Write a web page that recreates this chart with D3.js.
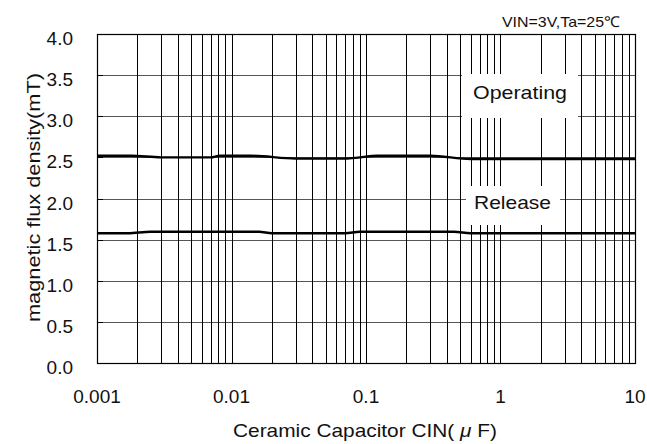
<!DOCTYPE html>
<html>
<head>
<meta charset="utf-8">
<script src="https://cdn.jsdelivr.net/npm/d3@7"></script>
<style>
  body { margin: 0; background: #fff; }
  svg { display: block; font-family: "Liberation Sans", Arial, sans-serif; }
</style>
</head>
<body>
<svg id="chart" width="647" height="444"></svg>
<script>
// capacitance values (uF) and flux density (mT)
const capOperating = [0.001, 0.0018, 0.003, 0.007, 0.0082, 0.014, 0.03, 0.07, 0.09, 0.12, 0.3, 0.6, 10];
const operating    = [2.52, 2.52, 2.50, 2.50, 2.52, 2.52, 2.485, 2.485, 2.50, 2.52, 2.52, 2.48, 2.48];
const capRelease   = [0.001, 0.0017, 0.0025, 0.016, 0.02, 0.07, 0.09, 0.45, 0.6, 10];
const release      = [1.577, 1.577, 1.595, 1.595, 1.577, 1.577, 1.595, 1.595, 1.577, 1.577];
const xTicks = [0.001, 0.01, 0.1, 1, 10];
const xTickLabels = ["0.001", "0.01", "0.1", "1", "10"];
const yTicks = [0, 0.5, 1, 1.5, 2, 2.5, 3, 3.5, 4];

const svg = d3.select("#chart");
const margin = { left: 97, top: 34, right: 12, bottom: 81 };
const W = 647, H = 444;

const x = d3.scaleLog().domain([0.001, 10]).range([margin.left, W - margin.right]);
const y = d3.scaleLinear().domain([0, 4]).range([H - margin.bottom, margin.top]);

// minor + major vertical grid
const vlines = [];
for (let e = -3; e < 1; e++) {
  for (let m = 1; m < 10; m++) vlines.push(m * Math.pow(10, e));
}
vlines.push(10);

svg.append("g")
  .selectAll("line")
  .data(yTicks)
  .join("line")
  .attr("x1", x(0.001)).attr("x2", x(10))
  .attr("y1", d => Math.round(y(d)) + 0.5).attr("y2", d => Math.round(y(d)) + 0.5)
  .attr("stroke", "#555").attr("stroke-width", 1);

svg.append("g")
  .selectAll("line")
  .data(vlines)
  .join("line")
  .attr("x1", d => Math.round(x(d)) + 0.5).attr("x2", d => Math.round(x(d)) + 0.5)
  .attr("y1", y(4)).attr("y2", y(0))
  .attr("stroke", "#000").attr("stroke-width", 1);

// small ticks on the left edge
svg.append("g")
  .selectAll("line")
  .data(yTicks)
  .join("line")
  .attr("x1", x(0.001)).attr("x2", x(0.001) + 6)
  .attr("y1", d => Math.round(y(d)) + 0.5).attr("y2", d => Math.round(y(d)) + 0.5)
  .attr("stroke", "#000").attr("stroke-width", 1);

// frame
svg.append("rect")
  .attr("x", x(0.001) + 0.5).attr("y", y(4) + 0.5)
  .attr("width", x(10) - x(0.001)).attr("height", y(0) - y(4))
  .attr("fill", "none").attr("stroke", "#000").attr("stroke-width", 1.2);

// series
const line = d3.line()
  .x(d => x(d[0]))
  .y(d => y(d[1]))
  .curve(d3.curveMonotoneX);

const series = [
  d3.zip(capOperating, operating),
  d3.zip(capRelease, release)
];
svg.append("g")
  .selectAll("path")
  .data(series)
  .join("path")
  .attr("d", line)
  .attr("fill", "none")
  .attr("stroke", "#000")
  .attr("stroke-width", 2.4);

// label boxes over the grid
const labels = [
  { text: "Operating", box: [462, 74, 116, 44], tx: 473, ty: 99, len: 94 },
  { text: "Release", box: [466, 186, 94, 39], tx: 474, ty: 209, len: 77 }
];
labels.forEach(l => {
  svg.append("rect")
    .attr("x", l.box[0]).attr("y", l.box[1])
    .attr("width", l.box[2]).attr("height", l.box[3])
    .attr("fill", "#fff");
  svg.append("text")
    .attr("x", l.tx).attr("y", l.ty)
    .attr("font-size", 19)
    .attr("textLength", l.len).attr("lengthAdjust", "spacingAndGlyphs")
    .attr("fill", "#111")
    .text(l.text);
});

// y tick labels
svg.append("g")
  .selectAll("text")
  .data(yTicks)
  .join("text")
  .attr("x", 73)
  .attr("y", d => y(d) + 11)
  .attr("text-anchor", "end")
  .attr("font-size", 19)
  .attr("fill", "#111")
  .text(d => d3.format(".1f")(d));

// x tick labels
svg.append("g")
  .selectAll("text")
  .data(xTicks)
  .join("text")
  .attr("x", d => x(d))
  .attr("y", 403)
  .attr("text-anchor", "middle")
  .attr("font-size", 19)
  .attr("fill", "#111")
  .text((d, i) => xTickLabels[i]);

// axis titles
const xt = svg.append("text")
  .attr("x", 365).attr("y", 437)
  .attr("text-anchor", "middle")
  .attr("font-size", 19)
  .attr("textLength", 264).attr("lengthAdjust", "spacingAndGlyphs")
  .attr("fill", "#111");
xt.append("tspan").text("Ceramic Capacitor CIN( ");
xt.append("tspan").attr("font-style", "italic").text("\u03bc");
xt.append("tspan").text(" F)");

svg.append("text")
  .attr("transform", "translate(40,197.5) rotate(-90)")
  .attr("text-anchor", "middle")
  .attr("font-size", 19)
  .attr("textLength", 249).attr("lengthAdjust", "spacingAndGlyphs")
  .attr("fill", "#111")
  .text("magnetic flux density(mT)");

// condition note
svg.append("text")
  .attr("x", 620).attr("y", 27)
  .attr("text-anchor", "end")
  .attr("font-size", 15)
  .attr("textLength", 118).attr("lengthAdjust", "spacingAndGlyphs")
  .attr("fill", "#111")
  .text("VIN=3V,Ta=25\u2103");
</script>
</body>
</html>
